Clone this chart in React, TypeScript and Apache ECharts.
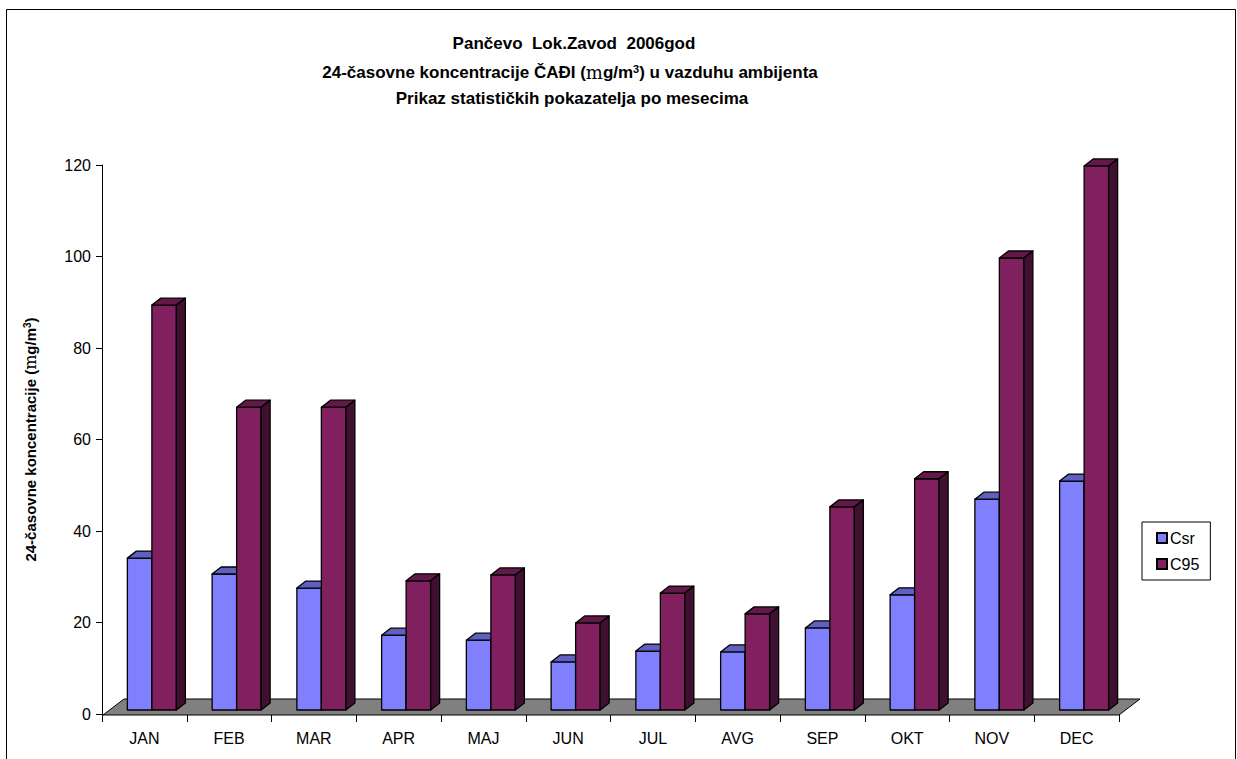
import React, { useEffect, useRef } from "react";
import * as echarts from "echarts";

const months = ["JAN", "FEB", "MAR", "APR", "MAJ", "JUN", "JUL", "AVG", "SEP", "OKT", "NOV", "DEC"];
const csr = [33.5, 30.0, 26.9, 16.5, 15.4, 10.6, 13.0, 12.8, 18.1, 25.4, 46.5, 50.5];
const c95 = [89.3, 66.8, 66.8, 28.5, 29.8, 19.2, 25.8, 21.2, 44.8, 51.0, 99.7, 120.0];
const seriesNames = ["Csr", "C95"];

const FONT = "'Liberation Sans', Arial, sans-serif";

const makeBar = (idx: number, front: string, top: string, side: string) => (params: any, api: any) => {
  const i = api.value(0);
  const v = api.value(1);
  const band = api.size([1, 0])[0];
  const k = band / 84.75;
  const c = api.coord([i, 0]);
  const y0 = c[1];
  const yv = api.coord([i, v])[1];
  const h = (y0 - yv) * 0.991;
  const bottom = y0 - 4;
  const t = bottom - h;
  const x1 = c[0] + (idx === 0 ? -17 : 7.5) * k;
  const x2 = x1 + 24.5 * k;
  const dx = 9, dy = -7;
  const st = { stroke: "#000", lineWidth: 1.3, lineJoin: "round" };
  return {
    type: "group",
    children: [
      { type: "polygon", shape: { points: [[x1, bottom], [x2, bottom], [x2, t], [x1, t]] }, style: { fill: front, ...st } },
      { type: "polygon", shape: { points: [[x1, t], [x2, t], [x2 + dx, t + dy], [x1 + dx, t + dy]] }, style: { fill: top, ...st } },
      { type: "polygon", shape: { points: [[x2, bottom], [x2 + dx, bottom + dy], [x2 + dx, t + dy], [x2, t]] }, style: { fill: side, ...st } },
    ],
  };
};

const renderFloor = (params: any, api: any) => {
  const band = api.size([1, 0])[0];
  const a = api.coord([0, 0]);
  const b = api.coord([months.length - 1, 0]);
  const left = a[0] - band / 2;
  const right = b[0] + band / 2;
  const y0 = a[1];
  return {
    type: "polygon",
    shape: { points: [[left + 1, y0 + 1], [right, y0 + 1], [right + 21, y0 - 15], [left + 22, y0 - 15]] },
    style: { fill: "#808080", stroke: "#000", lineWidth: 1 },
  };
};

export default function App() {
  const ref = useRef<HTMLDivElement>(null);
  useEffect(() => {
    if (!ref.current) return;
    const chart = echarts.init(ref.current, undefined, { renderer: "svg" });
    const supRich = {
      sup: { fontSize: 10, fontWeight: "bold", fontFamily: FONT, verticalAlign: "top", padding: [0, 0, 6, 0] },
      mu: { fontFamily: "'DejaVu Serif', serif", fontWeight: "normal", fontSize: 16 },
    };
    chart.setOption({
      animation: false,
      backgroundColor: "#fff",
      grid: { left: 102, right: 118, top: 165, bottom: 45 },
      legend: {
        data: seriesNames,
        orient: "vertical",
        left: 1142,
        top: 522,
        padding: [8, 11, 8, 14],
        borderColor: "#000",
        borderWidth: 1,
        itemWidth: 10,
        itemHeight: 10,
        itemGap: 10,
        icon: "rect",
        textStyle: { fontSize: 16, fontFamily: FONT, color: "#000", padding: [0, 0, 0, -2] },
      },
      xAxis: {
        type: "category",
        data: months,
        axisLine: { lineStyle: { color: "#000", width: 1 } },
        axisTick: { show: true, length: 8, alignWithLabel: false, lineStyle: { color: "#000" } },
        axisLabel: { fontSize: 16, fontFamily: FONT, color: "#000", margin: 16 },
        splitLine: { show: false },
      },
      yAxis: {
        type: "value",
        min: 0,
        max: 120,
        interval: 20,
        name: "24-časovne koncentracije ({mu|m}g/m{sup|3})",
        nameLocation: "middle",
        nameRotate: 90,
        nameGap: 64,
        nameTextStyle: { fontSize: 15, fontWeight: "bold", fontFamily: FONT, color: "#000", rich: supRich },
        axisLine: { show: true, lineStyle: { color: "#000", width: 1 } },
        axisTick: { show: true, length: 6, lineStyle: { color: "#000" } },
        axisLabel: { fontSize: 16, fontFamily: FONT, color: "#000", margin: 11 },
        splitLine: { show: false },
      },
      graphic: [
        { type: "rect", shape: { x: 6.5, y: 9.5, width: 1229, height: 770 }, style: { fill: "none", stroke: "#000", lineWidth: 1 }, z: -1 },
        { type: "text", x: 574, y: 43, style: { text: "Pančevo  Lok.Zavod  2006god", fontSize: 17, fontWeight: "bold", fontFamily: FONT, fill: "#000", textAlign: "center", textVerticalAlign: "middle" } },
        {
          type: "text", x: 570, y: 72,
          style: {
            text: "24-časovne koncentracije ČAĐI ({mu|m}g/m{sup|3}) u vazduhu ambijenta",
            fontSize: 17, fontWeight: "bold", fontFamily: FONT, fill: "#000", textAlign: "center", textVerticalAlign: "middle",
            rich: { sup: { fontSize: 11, fontWeight: "bold", fontFamily: FONT, verticalAlign: "top", padding: [0, 0, 7, 0] }, mu: { fontFamily: "'DejaVu Serif', serif", fontSize: 18, fontWeight: "normal" } },
          },
        },
        { type: "text", x: 572, y: 98, style: { text: "Prikaz statističkih pokazatelja po mesecima", fontSize: 17, fontWeight: "bold", fontFamily: FONT, fill: "#000", textAlign: "center", textVerticalAlign: "middle" } },
      ],
      series: [
        { type: "custom", name: "floor", data: [[0, 0]], renderItem: renderFloor, silent: true, z: 1 },
        {
          type: "custom", name: seriesNames[0], data: csr.map((v, i) => [i, v]), encode: { x: 0, y: 1 },
          renderItem: makeBar(0, "#8080FF", "#6060C0", "#40407F"),
          itemStyle: { color: "#8080FF", borderColor: "#000", borderWidth: 1 }, z: 2,
        },
        {
          type: "custom", name: seriesNames[1], data: c95.map((v, i) => [i, v]), encode: { x: 0, y: 1 },
          renderItem: makeBar(1, "#80205F", "#621848", "#401030"),
          itemStyle: { color: "#80205F", borderColor: "#000", borderWidth: 1 }, z: 3,
        },
      ],
    });
    return () => chart.dispose();
  }, []);
  return <div ref={ref} style={{ position: "fixed", left: 0, top: 0, width: 1237, height: 759 }} />;
}
